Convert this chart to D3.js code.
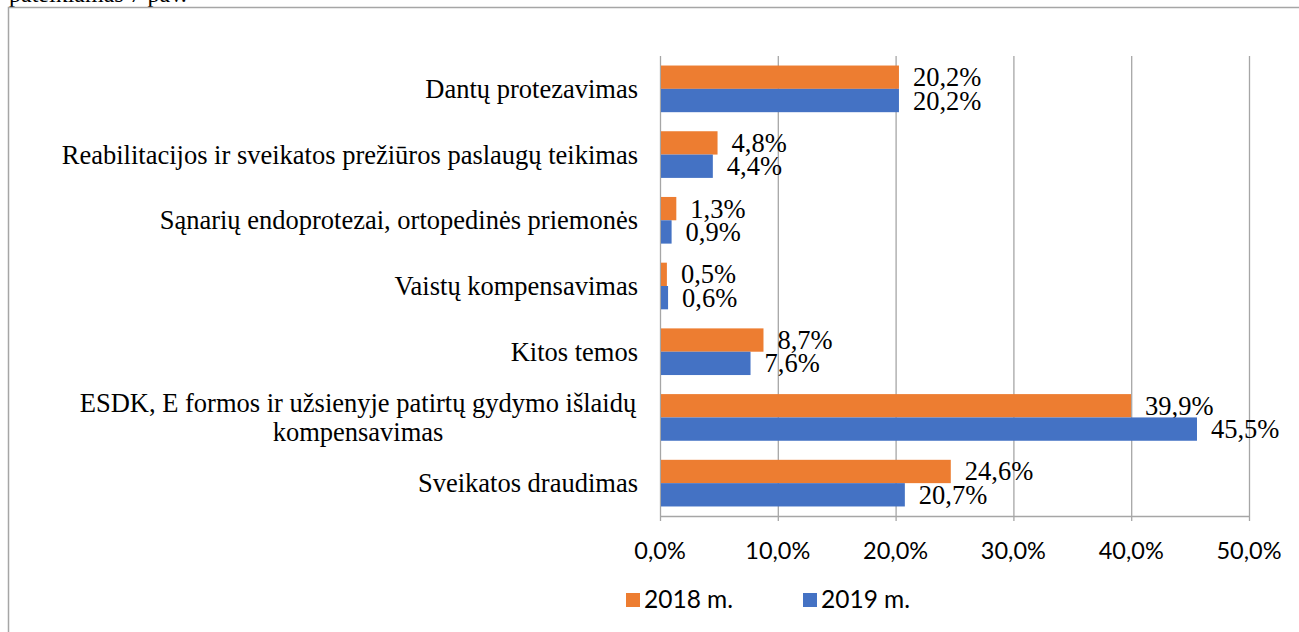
<!DOCTYPE html>
<html><head><meta charset="utf-8">
<script src="https://cdn.jsdelivr.net/npm/d3@7"></script>
<style>html,body{margin:0;padding:0;background:#fff;overflow:hidden}</style>
</head><body>
<svg id="c" width="1299" height="632"></svg>
<script>
const categories = [
  ["Dantų protezavimas"],
  ["Reabilitacijos ir sveikatos prežiūros paslaugų teikimas"],
  ["Sąnarių endoprotezai, ortopedinės priemonės"],
  ["Vaistų kompensavimas"],
  ["Kitos temos"],
  ["ESDK, E formos ir užsienyje patirtų gydymo išlaidų", "kompensavimas"],
  ["Sveikatos draudimas"]
];
const seriesNames = ["2018 m.", "2019 m."];
const values2018 = [20.2, 4.8, 1.3, 0.5, 8.7, 39.9, 24.6];
const values2019 = [20.2, 4.4, 0.9, 0.6, 7.6, 45.5, 20.7];
const xTicks = [0, 10, 20, 30, 40, 50];
const colors = ["#ED7D31", "#4472C4"];

(function(){
const svg = d3.select("#c");
const serif = "'Liberation Serif', 'Times New Roman', serif";
const sans = "Lato, 'Open Sans', sans-serif";

svg.append("text").attr("x", 9).attr("y", 2).attr("font-family", serif).attr("font-size", 24)
  .attr("fill", "#000").text("pateikiamas 7 pav.");
svg.append("rect").attr("x", 8.5).attr("y", 7.5).attr("width", 1400).attr("height", 700)
  .attr("fill", "none").attr("stroke", "#a6a6a6").attr("stroke-width", 1.5);

const pL = 660, pR = 1249, pT = 56, pB = 516;
const x = d3.scaleLinear().domain([0, 50]).range([pL, pR]);
const idx = d3.range(categories.length);
const y = d3.scaleBand().domain(idx).range([pT, pB]).paddingInner(0.29).paddingOuter(0.145);
const ys = d3.scaleBand().domain([0, 1]).range([0, y.bandwidth()]);

const g = svg.append("g");
g.selectAll("line.grid").data(xTicks.slice(1)).join("line")
  .attr("x1", d => x(d) + 0.5).attr("x2", d => x(d) + 0.5)
  .attr("y1", pT).attr("y2", pB + 5)
  .attr("stroke", "#a6a6a6").attr("stroke-width", 1.3);
g.append("line").attr("x1", pL + 0.5).attr("x2", pL + 0.5).attr("y1", pT).attr("y2", pB + 5)
  .attr("stroke", "#a6a6a6").attr("stroke-width", 1.3);
g.append("line").attr("x1", pL).attr("x2", pR + 1).attr("y1", pB + 0.5).attr("y2", pB + 0.5)
  .attr("stroke", "#a6a6a6").attr("stroke-width", 1.3);

const series = [values2018, values2019];
series.forEach((vals, s) => {
  svg.append("g").selectAll("rect").data(vals).join("rect")
    .attr("x", x(0) + 1)
    .attr("y", (d, i) => y(i) + ys(s))
    .attr("width", d => x(d) - x(0))
    .attr("height", ys.bandwidth())
    .attr("fill", colors[s]);
  svg.append("g").selectAll("text").data(vals).join("text")
    .attr("x", d => x(d) + 15)
    .attr("y", (d, i) => y(i) + ys(s) + ys.bandwidth() / 2 + 9)
    .attr("font-family", serif).attr("font-size", 26.5).attr("fill", "#000")
    .text(d => d3.format(".1f")(d).replace(".", ",") + "%");
});

const catG = svg.append("g");
categories.forEach((lines, i) => {
  const cy = y(i) + y.bandwidth() / 2;
  const lh = 29;
  const t = catG.append("text").attr("font-family", serif).attr("font-size", 26.5).attr("fill", "#000");
  if (lines.length === 1) {
    t.attr("x", 638).attr("y", cy + 9).attr("text-anchor", "end").text(lines[0]);
  } else {
    lines.forEach((ln, k) => {
      t.append("tspan").attr("x", 358).attr("text-anchor", "middle")
        .attr("y", cy + 9 + (k - (lines.length - 1) / 2) * lh).text(ln);
    });
  }
});

svg.append("g").selectAll("text").data(xTicks).join("text")
  .attr("x", d => x(d)).attr("y", 559).attr("text-anchor", "middle")
  .attr("font-family", sans).attr("font-size", 23.5).attr("fill", "#000")
  .text(d => d3.format(".1f")(d).replace(".", ",") + "%");

const legX = [626, 803];
seriesNames.forEach((n, s) => {
  svg.append("rect").attr("x", legX[s]).attr("y", 593).attr("width", 14).attr("height", 14).attr("fill", colors[s]);
  svg.append("text").attr("x", legX[s] + 18).attr("y", 608).attr("font-family", sans).attr("font-size", 24.5)
    .attr("fill", "#000").text(n);
});
})();
</script>
</body></html>
